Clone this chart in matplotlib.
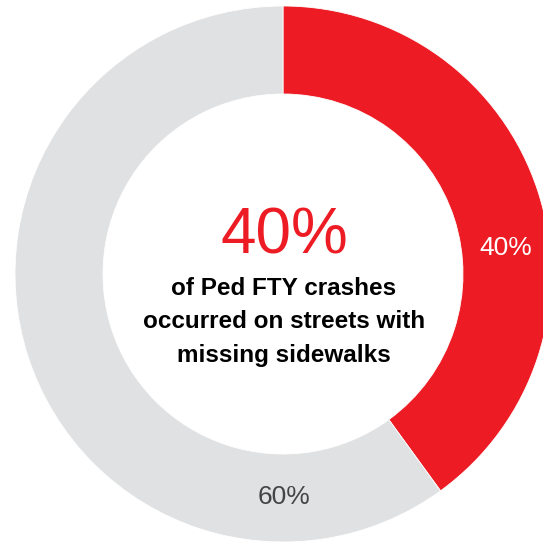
import matplotlib
matplotlib.use("Agg")
import matplotlib.pyplot as plt

# data
labels = ["Missing sidewalks", "Other"]
shares = [40, 60]
share_labels = ["40%", "60%"]
colors = ["#ED1C24", "#E0E1E2"]
headline = "40%"
caption = "of Ped FTY crashes\noccurred on streets with\nmissing sidewalks"

W, H = 543, 544
fig = plt.figure(figsize=(W / 100, H / 100), dpi=100)
ax = fig.add_axes([0, 0, 1, 1])

cx, cy = 283, 274
r_out, r_in = 268, 180

# y axis is inverted below, so startangle 270 is 12 o'clock and
# counterclock=True runs clockwise on screen
ax.pie(
    shares,
    colors=colors,
    startangle=270,
    counterclock=True,
    radius=r_out,
    center=(cx, cy),
    wedgeprops=dict(width=r_out - r_in, edgecolor="white", linewidth=0.6),
    frame=True,
)
ax.set_xlim(0, W)
ax.set_ylim(H, 0)
ax.set_aspect("equal")
ax.axis("off")

font = "Liberation Sans"
ax.text(506, 248, share_labels[0], color="white", fontsize=19, ha="center", va="center",
        family=font)
ax.text(284, 497, share_labels[1], color="#444444", fontsize=19, ha="center", va="center",
        family=font)

ax.text(284, 236, headline, color=colors[0], fontsize=46, ha="center", va="center",
        family=font)
ax.text(284, 322, caption, color="black", fontsize=17.5, fontweight="bold", ha="center",
        va="center", family=font, linespacing=1.6)

fig.savefig("out.png", dpi=100)
